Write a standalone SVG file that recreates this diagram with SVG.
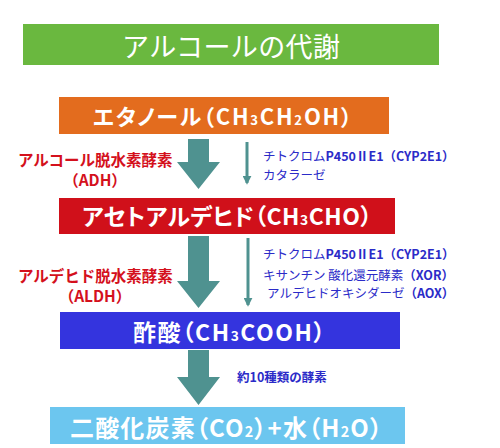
<svg xmlns="http://www.w3.org/2000/svg" width="500" height="448" viewBox="0 0 500 448">
  <style>
    text { font-family: "Noto Sans CJK JP", "Noto Sans", sans-serif; }
    .box { font-weight: bold; fill: #ffffff; font-feature-settings: "palt" 1; }
    .red { fill: #d4101c; font-weight: bold; font-size: 15.5px; }
    .blue { fill: #2b2bc8; font-size: 12.5px; }
    .b { font-weight: bold; }
    .big { fill: #4f9290; }
    .thin { stroke: #4f9290; stroke-width: 3; fill: none; }
    .sub { font-size: 0.6em; }
  </style>
  <defs>
    <marker id="ah" viewBox="0 0 10 10" refX="8" refY="5" markerWidth="3" markerHeight="3" orient="auto">
      <path d="M0,0 L10,5 L0,10 z" fill="#4f9290"/>
    </marker>
  </defs>
  <rect width="500" height="448" fill="#ffffff"/>

  <g id="title">
    <rect x="23" y="24" width="416" height="41" fill="#6ab83f"/>
    <text x="122" y="57" font-size="27" fill="#ffffff" textLength="218" lengthAdjust="spacing">アルコールの代謝</text>
  </g>

  <g id="ethanol">
    <rect x="59" y="97" width="330" height="37" fill="#e36c1e"/>
    <text class="box" x="93" y="125" font-size="22" textLength="259" lengthAdjust="spacing">エタノール（CH<tspan class="sub">3</tspan>CH<tspan class="sub">2</tspan>OH）</text>
  </g>

  <g id="acetaldehyde">
    <rect x="59" y="198" width="336" height="36" fill="#d0101a"/>
    <text class="box" x="82" y="225" font-size="23" textLength="290" lengthAdjust="spacing">アセトアルデヒド（CH<tspan class="sub">3</tspan>CHO）</text>
  </g>

  <g id="acetic">
    <rect x="60" y="312" width="340" height="37" fill="#3434de"/>
    <text class="box" x="133" y="341" font-size="23" textLength="192" lengthAdjust="spacing">酢酸（CH<tspan class="sub">3</tspan>COOH）</text>
  </g>

  <g id="co2">
    <rect x="50" y="407" width="355" height="37" fill="#6cc6ef"/>
    <text class="box" x="70" y="437" font-size="24" textLength="312" lengthAdjust="spacing">二酸化炭素（CO<tspan class="sub">2</tspan>）+水（H<tspan class="sub">2</tspan>O）</text>
  </g>

  <g id="connectors">
    <path class="big" d="M188,139 H209 V162 H220 L198.5,189 L177,162 H188 Z"/>
    <path class="big" d="M188,236 H209 V281 H220 L198.5,308 L177,281 H188 Z"/>
    <path class="big" d="M188,350 H209 V377 H220 L198.5,405 L177,377 H188 Z"/>
    <line class="thin" x1="247" y1="142" x2="247" y2="183" marker-end="url(#ah)"/>
    <line class="thin" x1="248" y1="238" x2="248" y2="305" marker-end="url(#ah)"/>
  </g>

  <g id="adh-label">
    <text class="red" x="18" y="166">アルコール脱水素酵素</text>
    <text class="red" x="95" y="186" text-anchor="middle">（ADH）</text>
  </g>
  <g id="aldh-label">
    <text class="red" x="18" y="282">アルデヒド脱水素酵素</text>
    <text class="red" x="95" y="302" text-anchor="middle">（ALDH）</text>
  </g>

  <g id="enzymes1">
    <text class="blue" x="263" y="161">チトクロム<tspan class="b">P450ⅡE1（CYP2E1）</tspan></text>
    <text class="blue" x="263" y="180">カタラーゼ</text>
  </g>
  <g id="enzymes2">
    <text class="blue" x="263" y="259">チトクロム<tspan class="b">P450ⅡE1（CYP2E1）</tspan></text>
    <text class="blue" x="263" y="280">キサンチン 酸化還元酵素<tspan class="b">（XOR）</tspan></text>
    <text class="blue" x="267" y="298">アルデヒドオキシダーゼ<tspan class="b">（AOX）</tspan></text>
  </g>
  <g id="enzymes3">
    <text class="blue b" x="237" y="382" font-size="15" fill="#3030b0">約10種類の酵素</text>
  </g>
</svg>
